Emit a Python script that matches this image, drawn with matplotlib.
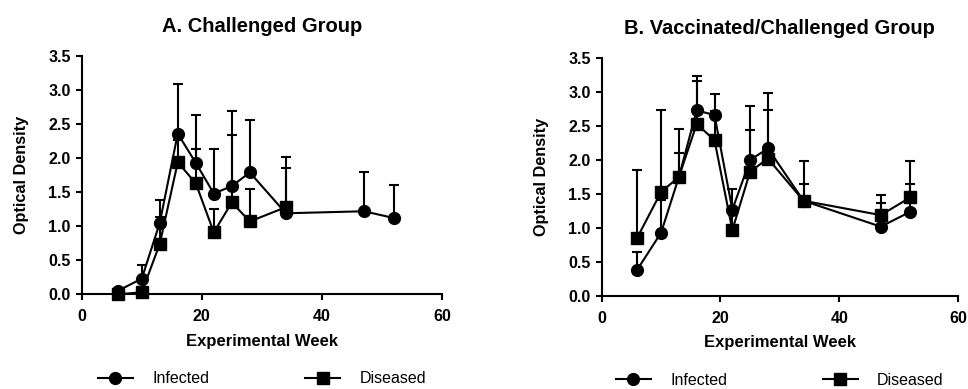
import numpy as np
import matplotlib
matplotlib.use("Agg")
import matplotlib.pyplot as plt
from matplotlib.ticker import FormatStrFormatter

plt.rcParams['font.family'] = ['Liberation Sans', 'DejaVu Sans']

# panel A: Challenged group
weeks_a_inf = [6, 10, 13, 16, 19, 22, 25, 28, 34, 47, 52]
od_a_inf = [0.05, 0.23, 1.05, 2.36, 1.93, 1.48, 1.59, 1.79, 1.19, 1.22, 1.12]
top_a_inf = [0.05, 0.43, 1.38, 3.09, 2.63, 2.14, 2.69, 2.56, 2.01, 1.79, 1.61]

weeks_a_dis = [6, 10, 13, 16, 19, 22, 25, 28, 34]
od_a_dis = [0.0, 0.03, 0.74, 1.94, 1.63, 0.91, 1.35, 1.07, 1.28]
top_a_dis = [0.0, 0.03, 1.13, 2.27, 2.14, 1.26, 2.34, 1.55, 1.85]

# panel B: Vaccinated/Challenged group
weeks_b = [6, 10, 13, 16, 19, 22, 25, 28, 34, 47, 52]
od_b_inf = [0.39, 0.93, 1.75, 2.73, 2.66, 1.27, 2.00, 2.17, 1.40, 1.02, 1.24]
top_b_inf = [0.65, 1.41, 2.10, 3.23, 2.97, 1.58, 2.44, 2.74, 1.64, 1.37, 1.64]
od_b_dis = [0.86, 1.53, 1.75, 2.53, 2.29, 0.97, 1.83, 2.02, 1.40, 1.19, 1.45]
top_b_dis = [1.85, 2.74, 2.45, 3.16, 2.72, 1.26, 2.79, 2.98, 1.98, 1.49, 1.98]

fig = plt.figure(figsize=(9.68, 3.89), dpi=100)
ax_a = fig.add_axes([0.0844, 0.2434, 0.3722, 0.6126])
ax_b = fig.add_axes([0.6216, 0.239, 0.368, 0.612])


def draw(ax, title, series):
    for wk, od, top, mk, lab in series:
        wk = np.array(wk)
        od = np.array(od)
        top = np.array(top)
        # upper error bars only (SD shown above the mean)
        up = top > od
        ax.vlines(wk[up], od[up], top[up], color='black', linewidth=1.5, zorder=2)
        ax.plot(wk[up], top[up], linestyle='none', marker='_', markersize=7,
                markeredgewidth=1.5, color='black', zorder=2, clip_on=False)
        ax.plot(wk, od, color='black', marker=mk, markersize=8.5, linewidth=1.5,
                label=lab, zorder=3, clip_on=False)
    ax.set_xlim(0, 60)
    ax.set_ylim(0, 3.5)
    ax.set_xticks([0, 20, 40, 60])
    ax.set_yticks(np.arange(0, 3.51, 0.5))
    ax.yaxis.set_major_formatter(FormatStrFormatter('%.1f'))
    for s in ['top', 'right']:
        ax.spines[s].set_visible(False)
    for s in ['left', 'bottom']:
        ax.spines[s].set_linewidth(1.5)
    ax.tick_params(width=1.5, length=4, labelsize=11.5, pad=4)
    ax.tick_params(axis='x', pad=6.5)
    for t in ax.get_xticklabels() + ax.get_yticklabels():
        t.set_fontweight('bold')
    ax.set_xlabel('Experimental Week', fontsize=12, fontweight='bold', labelpad=7)
    ax.set_ylabel('Optical Density', fontsize=11.7, fontweight='bold', labelpad=14)
    ax.set_title(title, fontsize=14.5, fontweight='bold', pad=17)
    h, l = ax.get_legend_handles_labels()
    ax.legend(h, l, loc='center', bbox_to_anchor=(0.5, -0.355), ncol=2,
              frameon=False, fontsize=11.5, handlelength=2.2,
              handletextpad=1.2, columnspacing=6.0)


draw(ax_a, 'A. Challenged Group',
     [(weeks_a_inf, od_a_inf, top_a_inf, 'o', 'Infected'),
      (weeks_a_dis, od_a_dis, top_a_dis, 's', 'Diseased')])
draw(ax_b, 'B. Vaccinated/Challenged Group',
     [(weeks_b, od_b_inf, top_b_inf, 'o', 'Infected'),
      (weeks_b, od_b_dis, top_b_dis, 's', 'Diseased')])

fig.savefig('out.png', dpi=100)
